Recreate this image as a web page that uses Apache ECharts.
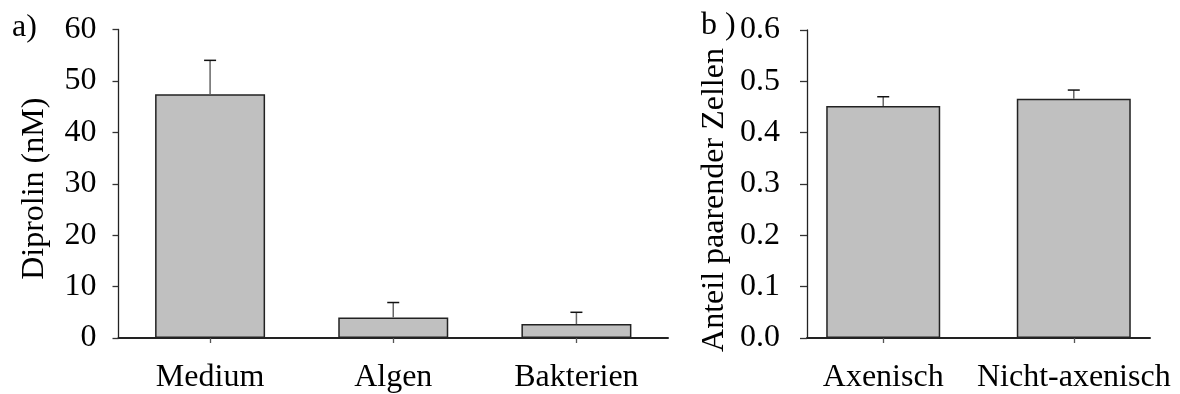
<!DOCTYPE html>
<html>
<head>
<meta charset="utf-8">
<script src="https://cdn.jsdelivr.net/npm/echarts@6/dist/echarts.min.js"></script>
<style>
html,body{margin:0;padding:0;background:#fff;}
#chart{width:1180px;height:394px;}
</style>
</head>
<body>
<div id="chart"></div>
<script>
// Panel a data
const catsA = ['Medium', 'Algen', 'Bakterien'];
const meanA = [47.4, 4.0, 2.7];
const errA = [6.6, 2.9, 2.3];
const ticksA = [0, 10, 20, 30, 40, 50, 60];

// Panel b data
const catsB = ['Axenisch', 'Nicht-axenisch'];
const meanB = [0.452, 0.466];
const errB = [0.018, 0.017];
const ticksB = ['0.0', '0.1', '0.2', '0.3', '0.4', '0.5', '0.6'];

const FONT = '"Liberation Serif", "Times New Roman", serif';
const FS = 32;

function errorSeries(xIdx, yIdx, pts) {
  return {
    type: 'custom',
    xAxisIndex: xIdx, yAxisIndex: yIdx,
    data: pts,
    z: 5,
    renderItem: function (params, api) {
      const x = api.value(0), m = api.value(1), e = api.value(2);
      const p0 = api.coord([x, m]);
      const p1 = api.coord([x, m + e]);
      const half = 6;
      return {
        type: 'group',
        children: [
          { type: 'line', shape: { x1: p0[0], y1: p0[1], x2: p1[0], y2: p1[1] },
            style: { stroke: '#666', lineWidth: 1.5 } },
          { type: 'line', shape: { x1: p1[0] - half, y1: p1[1], x2: p1[0] + half, y2: p1[1] },
            style: { stroke: '#111', lineWidth: 1.5 } }
        ]
      };
    }
  };
}

const chart = echarts.init(document.getElementById('chart'));

const option = {
  backgroundColor: '#fff',
  animation: false,
  graphic: [
    { type: 'text', left: 12, top: 12, style: { text: 'a)', font: FS + 'px ' + FONT, fill: '#000' } },
    { type: 'text', left: 701, top: 10, style: { text: 'b )', font: FS + 'px ' + FONT, fill: '#000' } }
  ],
  grid: [
    { left: 118.5, right: 512, top: 29.5, bottom: 56 },
    { left: 807, right: 30, top: 30, bottom: 55 }
  ],
  xAxis: [
    {
      gridIndex: 0, type: 'category', data: catsA, boundaryGap: true,
      axisLine: { show: true, onZero: false, lineStyle: { color: '#222', width: 2 } },
      axisTick: { show: true, alignWithLabel: true, inside: false, length: 5, lineStyle: { color: '#555', width: 1.3 } },
      axisLabel: { fontFamily: FONT, fontSize: FS, color: '#000', margin: 24 }
    },
    {
      gridIndex: 1, type: 'value', min: -0.4, max: 1.4,
      splitLine: { show: false },
      axisLine: { show: true, onZero: false, lineStyle: { color: '#222', width: 2 } },
      axisTick: { show: true, customValues: [0, 1], length: 5, lineStyle: { color: '#555', width: 1.3 } },
      axisLabel: { customValues: [0, 1], fontFamily: FONT, fontSize: FS, color: '#000', margin: 24,
        formatter: function (v) { return catsB[Math.round(v)]; } }
    }
  ],
  yAxis: [
    {
      gridIndex: 0, type: 'value', min: ticksA[0], max: ticksA[ticksA.length - 1], interval: 10,
      splitLine: { show: false },
      axisLine: { show: true, onZero: false, lineStyle: { color: '#222', width: 1.3 } },
      name: 'Diprolin (nM)', nameLocation: 'middle', nameGap: 68,
      nameTextStyle: { fontFamily: FONT, fontSize: FS, color: '#000', padding: [0, 10, 0, 0] },
      axisTick: { show: true, length: 6, lineStyle: { color: '#333', width: 1.3 } },
      axisLabel: { fontFamily: FONT, fontSize: FS, color: '#000', margin: 22 }
    },
    {
      gridIndex: 1, type: 'value', min: 0, max: 0.6, interval: 0.1,
      splitLine: { show: false },
      axisLine: { show: true, onZero: false, lineStyle: { color: '#222', width: 1.3 } },
      name: 'Anteil paarender Zellen', nameLocation: 'middle', nameGap: 76,
      nameTextStyle: { fontFamily: FONT, fontSize: FS, color: '#000', padding: [0, 32, 0, 0] },
      axisTick: { show: true, length: 7, lineStyle: { color: '#333', width: 1.3 } },
      axisLabel: { fontFamily: FONT, fontSize: FS, color: '#000', margin: 27,
        formatter: function (v) { return ticksB[Math.round(v * 10)]; } }
    }
  ],
  series: [
    {
      type: 'bar', xAxisIndex: 0, yAxisIndex: 0, data: meanA, barWidth: 110,
      itemStyle: { color: '#c0c0c0', borderColor: '#222', borderWidth: 1.5 }
    },
    errorSeries(0, 0, catsA.map((c, i) => [i, meanA[i], errA[i]])),
    {
      type: 'bar', xAxisIndex: 1, yAxisIndex: 1, data: catsB.map((c, i) => [i, meanB[i]]), barWidth: 114,
      itemStyle: { color: '#c0c0c0', borderColor: '#222', borderWidth: 1.5 }
    },
    errorSeries(1, 1, catsB.map((c, i) => [i, meanB[i], errB[i]]))
  ]
};
chart.setOption(option);
</script>
</body>
</html>
